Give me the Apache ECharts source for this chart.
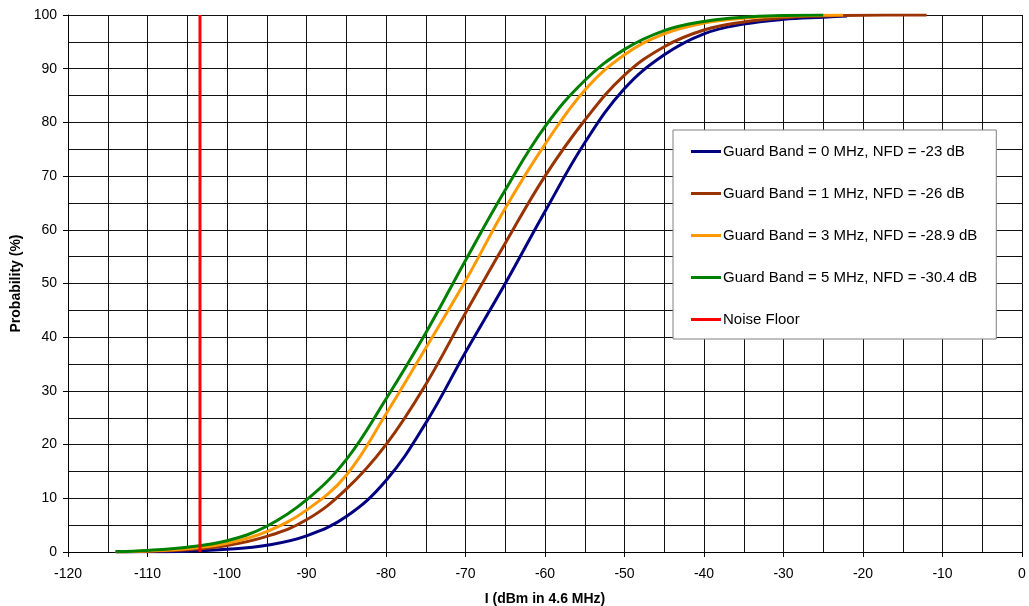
<!DOCTYPE html>
<html>
<head>
<meta charset="utf-8">
<script src="https://cdn.jsdelivr.net/npm/echarts@6/dist/echarts.min.js"></script>
<style>html,body{margin:0;padding:0;background:#fff}#c{width:1029px;height:606px}</style>
</head>
<body>
<div id="c"></div>
<script>
// Interference level I (dBm in 4.6 MHz) and cumulative probability (%)
const gb0X = [-114,-110,-105,-100,-95,-90,-85,-80,-75,-70,-65,-60,-55,-50,-45,-40,-35,-30,-25,-22];
const gb0Y = [0.01,0.04,0.15,0.5,1.25,3.0,6.6,13.3,24.0,37.2,50.0,63.4,76.2,86.3,92.6,96.5,98.3,99.2,99.6,99.8];

const gb1X = [-114,-110,-105,-100,-95,-90,-85,-80,-75,-70,-65,-60,-55,-50,-45,-40,-35,-30,-25,-20,-12];
const gb1Y = [0.03,0.12,0.4,1.2,2.9,6.0,11.7,20.0,31.2,44.5,57.5,70.0,80.4,88.8,94.1,97.2,98.7,99.5,99.8,99.95,100];

const gb3X = [-114,-110,-105,-100,-95,-90,-85,-80,-75,-70,-65,-60,-55,-50,-45,-40,-35,-30,-25,-22.5];
const gb3Y = [0.05,0.2,0.6,1.6,3.8,7.8,14.3,25.7,38.0,50.5,64.0,75.9,86.0,92.6,96.5,98.5,99.4,99.8,99.95,100];

const gb5X = [-114,-110,-105,-100,-95,-90,-85,-80,-75,-70,-65,-60,-55,-50,-45,-40,-35,-30,-25];
const gb5Y = [0.1,0.3,0.9,2.1,4.8,9.7,17.2,28.5,40.8,54.3,67.4,79.2,87.8,93.6,97.1,98.8,99.6,99.9,100];

const noiseX = [-103.4,-103.4];
const noiseY = [0,100];

const seriesNames = [
  'Guard Band = 0 MHz, NFD = -23 dB',
  'Guard Band = 1 MHz, NFD = -26 dB',
  'Guard Band = 3 MHz, NFD = -28.9 dB',
  'Guard Band = 5 MHz, NFD = -30.4 dB',
  'Noise Floor'
];
const xName = 'I (dBm in 4.6 MHz)';
const yName = 'Probability (%)';

const colors = ['#000080','#993300','#FF9900','#008000','#FF0000'];
const zip = (xs, ys) => xs.map((x,i)=>[x, ys[i]]);
const dataSets = [zip(gb0X,gb0Y), zip(gb1X,gb1Y), zip(gb3X,gb3Y), zip(gb5X,gb5Y), zip(noiseX,noiseY)];

const font = 'Liberation Sans, Arial, sans-serif';
const chart = echarts.init(document.getElementById('c'), null, {renderer:'canvas'});
chart.setOption({
  animation: false,
  backgroundColor: '#fff',
  grid: {left: 68, right: 7, top: 15, bottom: 54, containLabel: false, outerBoundsMode: 'none'},
  legend: {
    orient: 'vertical',
    left: 673, top: 130,
    padding: [14, 19, 12, 18],
    itemGap: 27,
    itemWidth: 30, itemHeight: 3,
    icon: 'rect',
    backgroundColor: '#fff',
    borderColor: '#808080', borderWidth: 1,
    textStyle: {fontFamily: font, fontSize: 15, color: '#000', padding: [0,0,0,-3]},
    data: seriesNames
  },
  xAxis: {
    type: 'value', min: -120, max: 0, interval: 10,
    name: xName, nameLocation: 'middle', nameGap: 40,
    nameTextStyle: {fontFamily: font, fontSize: 14, fontWeight: 'bold', color: '#000'},
    axisLine: {show: true, onZero: false, lineStyle: {color: '#000', width: 1}},
    axisTick: {show: true, length: 5, lineStyle: {color: '#000'}},
    axisLabel: {fontFamily: font, fontSize: 14, color: '#000', margin: 15},
    splitLine: {show: true, lineStyle: {color: '#111', width: 1}},
    minorTick: {show: false, splitNumber: 2},
    minorSplitLine: {show: true, lineStyle: {color: '#111', width: 1}}
  },
  yAxis: {
    type: 'value', min: 0, max: 100, interval: 10,
    name: yName, nameLocation: 'middle', nameGap: 40, nameRotate: 90,
    nameTextStyle: {fontFamily: font, fontSize: 14, fontWeight: 'bold', color: '#000'},
    axisLine: {show: true, onZero: false, lineStyle: {color: '#000', width: 1}},
    axisTick: {show: true, length: 5, lineStyle: {color: '#000'}},
    axisLabel: {fontFamily: font, fontSize: 14, color: '#000', margin: 11},
    splitLine: {show: true, lineStyle: {color: '#111', width: 1}},
    minorTick: {show: false, splitNumber: 2},
    minorSplitLine: {show: true, lineStyle: {color: '#111', width: 1}}
  },
  series: dataSets.map((d,i)=>({
    name: seriesNames[i],
    type: 'line',
    data: d,
    smooth: i < 4 ? 0.4 : false,
    showSymbol: false,
    symbol: 'none',
    color: colors[i],
    lineStyle: {color: colors[i], width: 3},
    z: i === 4 ? 10 : 2 + i
  }))
});
</script>
</body>
</html>
